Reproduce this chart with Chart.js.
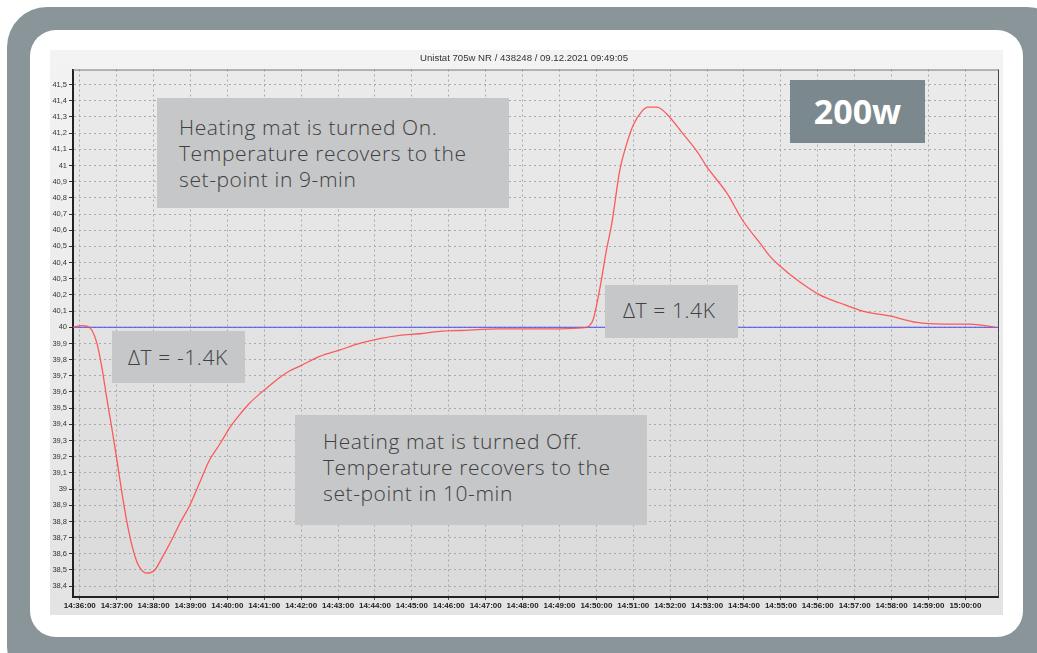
<!DOCTYPE html>
<html>
<head>
<meta charset="utf-8">
<script src="https://cdn.jsdelivr.net/npm/chart.js@4.4.1/dist/chart.umd.min.js"></script>
<style>
  html, body { margin: 0; padding: 0; background: #fff; width: 1037px; height: 653px; overflow: hidden; }
  #frame { position: absolute; left: 7px; top: 7px; width: 1060px; height: 680px; background: #8a959a; border-radius: 40px; }
  #inner { position: absolute; left: 30px; top: 30px; width: 993px; height: 607px; background: #fff; border-radius: 26px; }
  #panel { position: absolute; left: 50px; top: 50px; width: 953px; height: 565px; }
  .note { position: absolute; box-sizing: border-box; background: #c6c7c9; color: #404040;
          font-family: "Open Sans", sans-serif; font-weight: 300; font-size: 21px; letter-spacing: 0.6px;
          line-height: 26px; white-space: nowrap; }
  .badge { position: absolute; box-sizing: border-box; background: #7b898e; color: #fff;
           font-family: "Open Sans", sans-serif; font-weight: 700; font-size: 34px; text-align: center; }
</style>
</head>
<body>
<div id="frame"></div>
<div id="inner"></div>
<div id="panel"><canvas id="chart" width="953" height="565"></canvas></div>

<div class="note" style="left:157px;top:98px;width:352px;height:110px;padding:16px 0 0 22px;">Heating mat is turned On.<br>Temperature recovers to the<br>set-point in 9-min</div>
<div class="note" style="left:112px;top:331px;width:133px;height:52px;padding:13px 0 0 16px;">ΔT = -1.4K</div>
<div class="note" style="left:295px;top:415px;width:352px;height:110px;padding:13px 0 0 28px;">Heating mat is turned Off.<br>Temperature recovers to the<br>set-point in 10-min</div>
<div class="note" style="left:605px;top:285px;width:133px;height:53px;padding:12px 0 0 18px;">ΔT = 1.4K</div>
<div class="badge" style="left:790px;top:80px;width:135px;height:63px;line-height:62px;">200w</div>

<script>
// Bath temperature log, seconds after 14:36:00
const timeSec = [
  -11, 3, 13, 20, 28, 36, 44, 52, 60, 68, 76, 85, 94, 109, 122, 133, 150, 163, 179, 195,
  211, 228, 244, 260, 276, 293, 309, 325, 341, 358, 390, 423, 455, 488, 520, 553, 585, 618,
  683, 748, 824,
  829, 835, 840, 848, 856, 865, 878, 889, 900, 913, 924, 938, 954, 980, 1003, 1020,
  1052, 1078, 1106, 1122, 1138, 1167, 1203, 1236, 1273, 1317, 1361, 1403, 1447, 1488
];
const tempC = [
  40.0, 40.01, 40.005, 39.98, 39.9, 39.75, 39.56, 39.38, 39.19, 38.99, 38.81, 38.65, 38.54, 38.48, 38.5, 38.57, 38.69, 38.79, 38.9, 39.04,
  39.18, 39.28, 39.38, 39.46, 39.53, 39.59, 39.64, 39.69, 39.73, 39.76, 39.82, 39.86, 39.9, 39.93, 39.95, 39.96, 39.975, 39.98,
  39.99, 39.99, 40.0,
  40.01, 40.05, 40.13, 40.29, 40.47, 40.64, 40.97, 41.13, 41.25, 41.33, 41.36, 41.36, 41.32, 41.2, 41.09, 40.99,
  40.83, 40.66, 40.52, 40.44, 40.38, 40.29, 40.2, 40.15, 40.1, 40.07, 40.03, 40.02, 40.02, 40.0
];
const setpointC = 40.0;
const timeRange = [-11, 1493];
const tempRange = [38.333, 41.593];

const xTickLabels = [
  '14:36:00', '14:37:00', '14:38:00', '14:39:00', '14:40:00', '14:41:00', '14:42:00', '14:43:00',
  '14:44:00', '14:45:00', '14:46:00', '14:47:00', '14:48:00', '14:49:00', '14:50:00', '14:51:00',
  '14:52:00', '14:53:00', '14:54:00', '14:55:00', '14:56:00', '14:57:00', '14:58:00', '14:59:00', '15:00:00'
];
const yTickValues = [
  38.4, 38.5, 38.6, 38.7, 38.8, 38.9, 39.0, 39.1, 39.2, 39.3, 39.4, 39.5, 39.6, 39.7, 39.8, 39.9,
  40.0, 40.1, 40.2, 40.3, 40.4, 40.5, 40.6, 40.7, 40.8, 40.9, 41.0, 41.1, 41.2, 41.3, 41.4, 41.5
];
const chartTitle = 'Unistat 705w NR / 438248 / 09.12.2021 09:49:05';

const toSeconds = s => {
  const [h, m, sec] = s.split(':').map(Number);
  return h * 3600 + m * 60 + sec - (14 * 3600 + 36 * 60);
};
const xTickSeconds = xTickLabels.map(toSeconds);
const fmtTemp = v => (Math.round(v * 10) % 10 === 0 ? String(Math.round(v)) : v.toFixed(1)).replace('.', ',');

const panelShade = {
  id: 'panelShade',
  beforeDraw(chart) {
    const { ctx, width, height, chartArea: a } = chart;
    ctx.save();
    let g = ctx.createLinearGradient(0, 0, 0, height);
    g.addColorStop(0, '#f3f3f3');
    g.addColorStop(1, '#e3e3e3');
    ctx.fillStyle = g;
    ctx.fillRect(0, 0, width, height);
    g = ctx.createLinearGradient(0, a.top, 0, a.bottom);
    g.addColorStop(0, '#ebebeb');
    g.addColorStop(1, '#dadada');
    ctx.fillStyle = g;
    ctx.fillRect(a.left, a.top, a.right - a.left, a.bottom - a.top);
    ctx.restore();
  },
  afterDraw(chart) {
    const { ctx, chartArea: a } = chart;
    ctx.save();
    ctx.lineWidth = 1;
    ctx.strokeStyle = '#7a7a7a';
    ctx.beginPath();
    ctx.moveTo(a.left, a.top + 0.5);
    ctx.lineTo(a.right + 0.5, a.top + 0.5);
    ctx.stroke();
    ctx.strokeStyle = '#444';
    ctx.beginPath();
    ctx.moveTo(a.right + 0.5, a.top);
    ctx.lineTo(a.right + 0.5, a.bottom);
    ctx.stroke();
    ctx.restore();
  }
};

new Chart(document.getElementById('chart'), {
  type: 'line',
  data: {
    datasets: [
      {
        data: timeSec.map((t, i) => ({ x: t, y: tempC[i] })),
        borderColor: 'rgba(255, 75, 75, 0.9)',
        borderWidth: 1.3,
        pointRadius: 0,
        cubicInterpolationMode: 'monotone'
      },
      {
        data: [{ x: timeRange[0], y: setpointC }, { x: timeRange[1], y: setpointC }],
        borderColor: '#4a4af0',
        borderWidth: 1.2,
        pointRadius: 0
      }
    ]
  },
  options: {
    responsive: false,
    animation: false,
    layout: { padding: { left: 0, right: 5, top: 0, bottom: 0 } },
    plugins: {
      legend: { display: false },
      tooltip: { enabled: false },
      title: {
        display: true,
        text: chartTitle,
        color: '#333',
        font: { family: 'Liberation Sans', size: 9.6, weight: 'normal' },
        padding: { top: 3, bottom: 5 }
      }
    },
    scales: {
      x: {
        type: 'linear',
        min: timeRange[0],
        max: timeRange[1],
        afterBuildTicks: s => { s.ticks = xTickSeconds.map(v => ({ value: v })); },
        afterFit: s => { s.height = 18; },
        ticks: {
          autoSkip: false,
          maxRotation: 0,
          padding: 1,
          color: '#222',
          font: { family: 'Liberation Sans', size: 8, weight: 'bold' },
          callback: (v, i) => xTickLabels[i]
        },
        grid: { color: '#a9a9a9', lineWidth: 1, tickLength: 3, tickColor: '#555', tickBorderDash: [] },
        border: { color: '#222', width: 2, dash: [2, 3] }
      },
      y: {
        type: 'linear',
        min: tempRange[0],
        max: tempRange[1],
        afterBuildTicks: s => { s.ticks = yTickValues.map(v => ({ value: v })); },
        afterFit: s => { s.width = 23; },
        ticks: {
          autoSkip: false,
          padding: 2,
          color: '#333',
          font: { family: 'Liberation Sans', size: 7.5 },
          callback: v => fmtTemp(v)
        },
        grid: { color: '#a9a9a9', lineWidth: 1, tickLength: 4, tickColor: '#333', tickBorderDash: [] },
        border: { color: '#222', width: 2, dash: [2, 3] }
      }
    }
  },
  plugins: [panelShade]
});
</script>
</body>
</html>
